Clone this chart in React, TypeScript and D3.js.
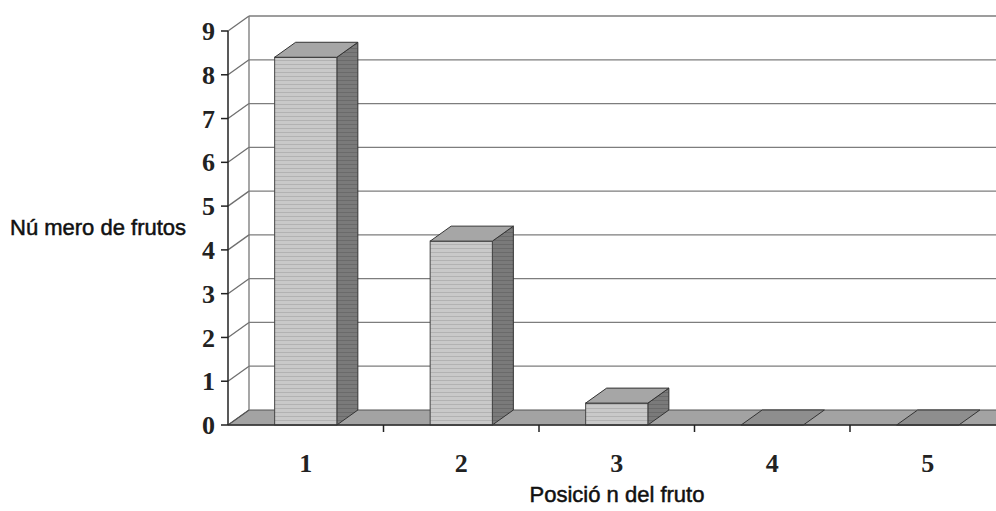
import React from "react";
import * as d3 from "d3";

// Fruit count per fruit position along the branch
const categories: string[] = ["1", "2", "3", "4", "5"];
const values: number[] = [8.4, 4.2, 0.5, 0, 0];
const yTicks: number[] = [0, 1, 2, 3, 4, 5, 6, 7, 8, 9];
const yTitle = "Nú mero de frutos";
const xTitle = "Posició n del fruto";

const W = 996;
const H = 511;
// oblique depth offset of the 3D box
const DX = 21;
const DY = -15;

export default function App() {
  const y = d3.scaleLinear().domain([0, 9]).range([425, 31]);
  const x = d3.scaleBand<string>().domain(categories).range([228, 1005.5]).paddingInner(0).paddingOuter(0);
  const bw = x.bandwidth() * 0.4;
  const y0 = y(0);
  const xLeft = 228;
  const xRight = 1005.5;

  const poly = (pts: [number, number][]) => pts.map((p) => p.join(",")).join(" ");

  return (
    <svg
      width={W}
      height={H}
      style={{ position: "absolute", left: 0, top: 0, background: "#fff" }}
    >
      <defs>
        <pattern id="frontHatch" width="8" height="4" patternUnits="userSpaceOnUse">
          <rect width="8" height="4" fill="#c9c9c9" />
          <line x1="0" y1="0.5" x2="8" y2="0.5" stroke="#b2b2b2" strokeWidth="1" />
        </pattern>
        <pattern id="sideHatch" width="8" height="4" patternUnits="userSpaceOnUse">
          <rect width="8" height="4" fill="#7a7a7a" />
          <line x1="0" y1="0.5" x2="8" y2="0.5" stroke="#6a6a6a" strokeWidth="1" />
        </pattern>
        <clipPath id="frame">
          <rect x="0" y="0" width={W} height={H} />
        </clipPath>
      </defs>

      <g clipPath="url(#frame)">
        {/* floor */}
        <polygon
          points={poly([
            [xLeft, y0],
            [xRight, y0],
            [xRight + DX, y0 + DY],
            [xLeft + DX, y0 + DY],
          ])}
          fill="#a3a3a3"
          stroke="#555"
          strokeWidth={1}
        />

        {/* gridlines: diagonal on the side wall, horizontal on the back wall */}
        {yTicks.slice(1).map((t) => (
          <g key={"g" + t}>
            <line x1={xLeft} y1={y(t)} x2={xLeft + DX} y2={y(t) + DY} stroke="#6f6f6f" strokeWidth={1.3} />
            <line x1={xLeft + DX} y1={y(t) + DY} x2={W + 10} y2={y(t) + DY} stroke="#7d7d7d" strokeWidth={1.3} />
          </g>
        ))}
        {/* floor diagonal at the side wall */}
        <line x1={xLeft} y1={y0} x2={xLeft + DX} y2={y0 + DY} stroke="#555" strokeWidth={1.3} />
        {/* back corner edge */}
        <line x1={xLeft + DX} y1={y(9) + DY} x2={xLeft + DX} y2={y0 + DY} stroke="#777" strokeWidth={1.3} />

        {/* bars */}
        {categories.map((c, i) => {
          const v = values[i];
          const cx = (x(c) as number) + x.bandwidth() / 2;
          const l = cx - bw / 2;
          const r = cx + bw / 2;
          const top = y(v);
          return (
            <g key={"b" + c}>
              {v > 0 && (
                <>
                  <polygon
                    points={poly([
                      [r, y0],
                      [r + DX, y0 + DY],
                      [r + DX, top + DY],
                      [r, top],
                    ])}
                    fill="url(#sideHatch)"
                    stroke="#333"
                    strokeWidth={1}
                  />
                  <rect x={l} y={top} width={bw} height={y0 - top} fill="url(#frontHatch)" stroke="#444" strokeWidth={1} />
                </>
              )}
              <polygon
                points={poly([
                  [l, top],
                  [r, top],
                  [r + DX, top + DY],
                  [l + DX, top + DY],
                ])}
                fill={v > 0 ? "#a6a6a6" : "#8e8e8e"}
                stroke="#333"
                strokeWidth={1}
              />
            </g>
          );
        })}

        {/* front axis lines */}
        <line x1={xLeft} y1={y(9)} x2={xLeft} y2={y0} stroke="#222" strokeWidth={1.5} />
        <line x1={xLeft} y1={y0} x2={W + 10} y2={y0} stroke="#333" strokeWidth={1.5} />

        {/* y ticks and labels */}
        {yTicks.map((t) => (
          <g key={"t" + t}>
            <line x1={xLeft - 7} y1={y(t)} x2={xLeft} y2={y(t)} stroke="#222" strokeWidth={1.5} />
            <text
              x={xLeft - 13}
              y={y(t)}
              dy="0.35em"
              textAnchor="end"
              fontFamily="'Liberation Serif', 'Times New Roman', serif"
              fontWeight="bold"
              fontSize={26}
              fill="#222"
            >
              {t}
            </text>
          </g>
        ))}

        {/* x ticks at category boundaries */}
        {categories.slice(1).map((c) => (
          <line key={"xt" + c} x1={x(c) as number} y1={y0} x2={x(c) as number} y2={y0 + 7} stroke="#222" strokeWidth={1.5} />
        ))}

        {/* x labels */}
        {categories.map((c) => (
          <text
            key={"xl" + c}
            x={(x(c) as number) + x.bandwidth() / 2}
            y={472}
            textAnchor="middle"
            fontFamily="'Liberation Serif', 'Times New Roman', serif"
            fontWeight="bold"
            fontSize={26}
            fill="#222"
          >
            {c}
          </text>
        ))}

        {/* axis titles */}
        <text
          x={10}
          y={235}
          fontFamily="'Liberation Sans', Arial, sans-serif"
          fontSize={22}
          fill="#111"
          stroke="#111"
          strokeWidth={0.5}
        >
          {yTitle}
        </text>
        <text
          x={617}
          y={502}
          textAnchor="middle"
          fontFamily="'Liberation Sans', Arial, sans-serif"
          fontSize={22}
          fill="#111"
          stroke="#111"
          strokeWidth={0.5}
        >
          {xTitle}
        </text>
      </g>
    </svg>
  );
}
